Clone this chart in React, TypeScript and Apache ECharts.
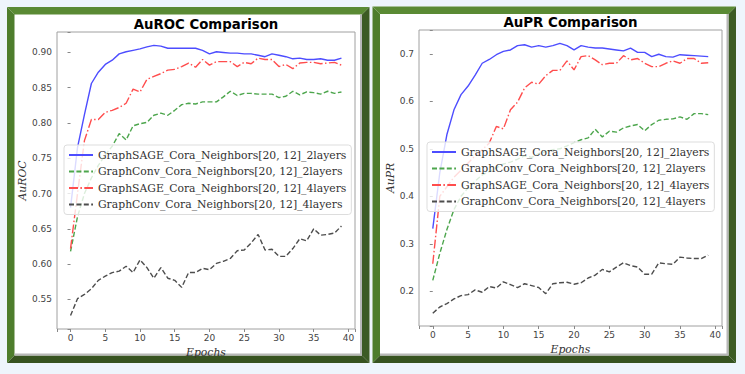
import React, { useEffect, useRef } from "react";
import * as echarts from "echarts";

const epochs = [0, 1, 2, 3, 4, 5, 6, 7, 8, 9, 10, 11, 12, 13, 14, 15, 16, 17, 18, 19, 20, 21, 22, 23, 24, 25, 26, 27, 28, 29, 30, 31, 32, 33, 34, 35, 36, 37, 38, 39];

const seriesNames = [
  "GraphSAGE_Cora_Neighbors[20, 12]_2layers",
  "GraphConv_Cora_Neighbors[20, 12]_2layers",
  "GraphSAGE_Cora_Neighbors[20, 12]_4layers",
  "GraphConv_Cora_Neighbors[20, 12]_4layers",
];

// AuROC
const rocSage2 = [0.680, 0.765, 0.812, 0.856, 0.872, 0.883, 0.889, 0.898, 0.901, 0.903, 0.905, 0.908, 0.910, 0.909, 0.906, 0.906, 0.906, 0.906, 0.906, 0.903, 0.898, 0.901, 0.900, 0.899, 0.899, 0.898, 0.898, 0.896, 0.894, 0.898, 0.896, 0.894, 0.891, 0.892, 0.890, 0.890, 0.891, 0.889, 0.889, 0.892];
const rocConv2 = [0.618, 0.667, 0.700, 0.722, 0.740, 0.755, 0.767, 0.785, 0.776, 0.796, 0.799, 0.801, 0.811, 0.814, 0.811, 0.818, 0.826, 0.828, 0.827, 0.830, 0.830, 0.830, 0.837, 0.845, 0.839, 0.842, 0.842, 0.841, 0.841, 0.841, 0.836, 0.838, 0.845, 0.840, 0.844, 0.843, 0.841, 0.845, 0.842, 0.844];
const rocSage4 = [0.622, 0.700, 0.775, 0.805, 0.805, 0.815, 0.818, 0.822, 0.828, 0.848, 0.844, 0.862, 0.866, 0.870, 0.875, 0.876, 0.880, 0.885, 0.879, 0.890, 0.882, 0.887, 0.887, 0.887, 0.880, 0.886, 0.884, 0.892, 0.890, 0.890, 0.880, 0.883, 0.877, 0.885, 0.886, 0.886, 0.884, 0.885, 0.886, 0.882];
const rocConv4 = [0.527, 0.551, 0.557, 0.565, 0.577, 0.583, 0.588, 0.590, 0.597, 0.588, 0.606, 0.595, 0.580, 0.595, 0.580, 0.577, 0.567, 0.588, 0.588, 0.594, 0.592, 0.601, 0.604, 0.608, 0.619, 0.620, 0.630, 0.642, 0.620, 0.621, 0.611, 0.611, 0.622, 0.636, 0.633, 0.650, 0.641, 0.642, 0.644, 0.654];

// AuPR
const prSage2 = [0.332, 0.450, 0.530, 0.582, 0.614, 0.632, 0.655, 0.680, 0.688, 0.698, 0.705, 0.708, 0.717, 0.719, 0.714, 0.717, 0.714, 0.717, 0.722, 0.717, 0.708, 0.717, 0.714, 0.712, 0.712, 0.710, 0.708, 0.706, 0.712, 0.703, 0.703, 0.694, 0.699, 0.694, 0.693, 0.698, 0.697, 0.696, 0.695, 0.694];
const prConv2 = [0.223, 0.280, 0.330, 0.372, 0.400, 0.418, 0.432, 0.445, 0.452, 0.460, 0.468, 0.472, 0.478, 0.485, 0.482, 0.490, 0.494, 0.498, 0.500, 0.506, 0.513, 0.519, 0.523, 0.541, 0.525, 0.537, 0.535, 0.544, 0.548, 0.551, 0.538, 0.551, 0.560, 0.562, 0.563, 0.567, 0.562, 0.574, 0.574, 0.572];
const prSage4 = [0.258, 0.400, 0.420, 0.440, 0.455, 0.470, 0.485, 0.498, 0.512, 0.547, 0.542, 0.582, 0.598, 0.628, 0.640, 0.636, 0.654, 0.665, 0.665, 0.685, 0.666, 0.694, 0.696, 0.687, 0.677, 0.680, 0.680, 0.696, 0.687, 0.690, 0.680, 0.673, 0.673, 0.680, 0.685, 0.680, 0.690, 0.690, 0.680, 0.681];
const prConv4 = [0.154, 0.167, 0.174, 0.184, 0.191, 0.193, 0.203, 0.198, 0.210, 0.207, 0.220, 0.214, 0.208, 0.216, 0.212, 0.208, 0.195, 0.216, 0.218, 0.219, 0.215, 0.218, 0.228, 0.234, 0.246, 0.241, 0.251, 0.260, 0.254, 0.251, 0.236, 0.236, 0.260, 0.258, 0.257, 0.272, 0.270, 0.269, 0.269, 0.276];

const lineStyles: any[] = [
  { color: "#4d4dff", type: "solid" },
  { color: "#4da64d", type: [5, 2.4] },
  { color: "#ff4d4d", type: [9, 2.4, 1.5, 2.4] },
  { color: "#4d4d4d", type: [5, 2.4] },
];

const SERIF = '"DejaVu Serif", serif';
const SANS = '"DejaVu Sans", sans-serif';

function fmt(step: number, dec: number) {
  return (v: number) => {
    const k = Math.round(v / step);
    if (Math.abs(v - k * step) > 1e-6) return "";
    return (k * step).toFixed(dec);
  };
}

function frame(x0: number, y0: number, x1: number, y1: number, b: number) {
  const light = "#5a8a34";
  const lightL = "#4e7d2c";
  const dark = "#3c5b24";
  const darkB = "#375320";
  return [
    { type: "rect", z: -1, shape: { x: x0, y: y0, width: x1 - x0, height: y1 - y0 }, style: { fill: "#ffffff" } },
    { type: "polygon", z: -1, shape: { points: [[x0, y0], [x1, y0], [x1 - b, y0 + b], [x0 + b, y0 + b]] }, style: { fill: light } },
    { type: "polygon", z: -1, shape: { points: [[x0, y0], [x0 + b, y0 + b], [x0 + b, y1 - b], [x0, y1]] }, style: { fill: lightL } },
    { type: "polygon", z: -1, shape: { points: [[x1, y0], [x1, y1], [x1 - b, y1 - b], [x1 - b, y0 + b]] }, style: { fill: dark } },
    { type: "polygon", z: -1, shape: { points: [[x0, y1], [x1, y1], [x1 - b, y1 - b], [x0 + b, y1 - b]] }, style: { fill: darkB } },
    { type: "rect", z: -1, shape: { x: x1 - b - 2, y: y0 + b, width: 2, height: y1 - y0 - 2 * b }, style: { fill: "#b8b8b8" } },
    { type: "rect", z: -1, shape: { x: x0 + b, y: y1 - b - 2, width: x1 - x0 - 2 * b, height: 2 }, style: { fill: "#b8b8b8" } },
  ];
}

function makeSeries(gridIndex: number, arrays: number[][]) {
  return arrays.map((arr, i) => ({
    type: "line",
    name: seriesNames[i],
    xAxisIndex: gridIndex,
    yAxisIndex: gridIndex,
    data: epochs.map((e, j) => [e, arr[j]]),
    symbol: "none",
    showSymbol: false,
    lineStyle: { width: 1.4, color: lineStyles[i].color, type: lineStyles[i].type },
    itemStyle: { color: lineStyles[i].color },
    z: 2,
  }));
}

function xAxis(gridIndex: number, gap: number) {
  return {
    type: "value",
    gridIndex,
    min: -1.95,
    max: 40.95,
    minInterval: 5,
    maxInterval: 5,
    splitNumber: 8,
    name: "Epochs",
    nameLocation: "middle",
    nameGap: gap,
    nameTextStyle: { fontFamily: SERIF, fontStyle: "italic", fontSize: 10.8, color: "#333" },
    axisLine: { show: false },
    axisTick: { show: true, length: 3, lineStyle: { color: "#888" } },
    splitLine: { show: false },
    axisLabel: { formatter: fmt(5, 0), fontFamily: SANS, fontSize: 9, color: "#444", margin: 4 },
  };
}

function yAxis(gridIndex: number, min: number, max: number, step: number, dec: number, name: string, gap: number) {
  return {
    type: "value",
    gridIndex,
    min,
    max,
    minInterval: step,
    maxInterval: step,
    name,
    nameLocation: "middle",
    nameGap: gap,
    nameTextStyle: { fontFamily: SERIF, fontStyle: "italic", fontSize: 10.8, color: "#333" },
    axisLine: { show: false },
    axisTick: { show: true, length: 3, lineStyle: { color: "#888" } },
    splitLine: { show: false },
    axisLabel: { formatter: fmt(step, dec), fontFamily: SANS, fontSize: 9, color: "#444", margin: 5 },
  };
}

function legend(left: number, top: number) {
  return {
    orient: "vertical",
    left,
    top,
    itemWidth: 24,
    itemHeight: 12,
    itemGap: 4.5,
    padding: [4, 5, 4, 4],
    backgroundColor: "rgba(255,255,255,0.8)",
    borderColor: "#dddddd",
    borderWidth: 1,
    borderRadius: 3,
    itemStyle: { opacity: 0 },
    textStyle: { fontFamily: SERIF, fontSize: 10.8, color: "#333", lineHeight: 12 },
    data: seriesNames,
    selectedMode: false,
    z: 10,
  };
}

export default function App() {
  const ref = useRef<HTMLDivElement>(null);
  useEffect(() => {
    const chart = echarts.init(ref.current!, null, { renderer: "svg", width: 745, height: 374 });
    const option: any = {
      animation: false,
      backgroundColor: "#eef5fc",
      grid: [
        { left: 57, top: 32, width: 298, height: 297, show: true, backgroundColor: "#ffffff", borderColor: "#a0a0a0", borderWidth: 1 },
        { left: 419, top: 30, width: 303, height: 296, show: true, backgroundColor: "#ffffff", borderColor: "#a0a0a0", borderWidth: 1 },
      ],
      xAxis: [xAxis(0, 15), xAxis(1, 16)],
      yAxis: [
        yAxis(0, 0.508, 0.929, 0.05, 2, "AuROC", 29),
        yAxis(1, 0.127, 0.750, 0.1, 1, "AuPR", 22),
      ],
      legend: [legend(64, 145), legend(427, 142)],
      series: [
        ...makeSeries(0, [rocSage2, rocConv2, rocSage4, rocConv4]),
        ...makeSeries(1, [prSage2, prConv2, prSage4, prConv4]),
      ],
      graphic: [
        ...frame(7, 7, 369.5, 363, 7.5),
        ...frame(372.5, 6.5, 736, 363, 7.5),
        { type: "text", z: 10, x: 206, y: 24, style: { text: "AuROC Comparison", fontFamily: SANS, fontWeight: "bold", fontSize: 13.3, fill: "#000", align: "center", verticalAlign: "middle" } },
        { type: "text", z: 10, x: 570.5, y: 22, style: { text: "AuPR Comparison", fontFamily: SANS, fontWeight: "bold", fontSize: 13.4, fill: "#000", align: "center", verticalAlign: "middle" } },
      ],
    };
    chart.setOption(option);
    return () => chart.dispose();
  }, []);
  return <div ref={ref} style={{ position: "absolute", left: 0, top: 0, width: 745, height: 374 }} />;
}
